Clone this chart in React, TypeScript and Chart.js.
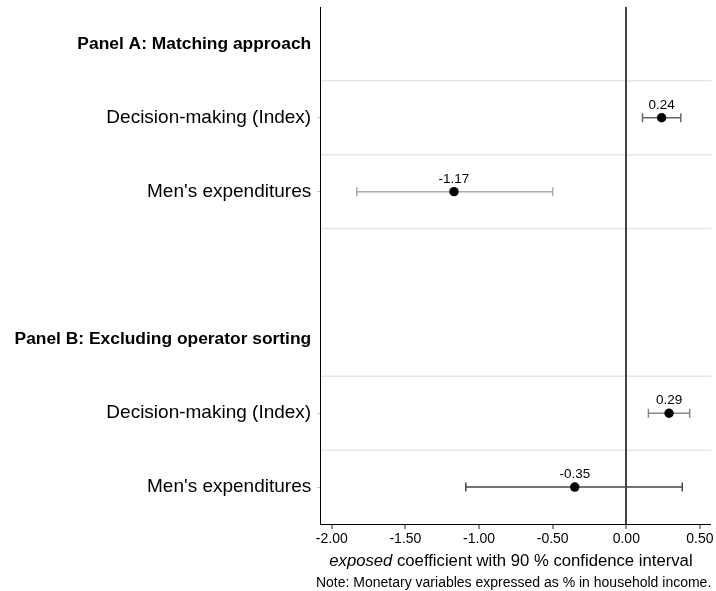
import { useEffect, useRef } from "react";
import { Chart, registerables } from "chart.js";

Chart.register(...registerables);

const FONT = "'Liberation Sans', Arial, Helvetica, sans-serif";

// Rows from top to bottom; empty string is the spacer between the panels.
const rowLabels = [
  "Panel A: Matching approach",
  "Decision-making (Index)",
  "Men's expenditures",
  "",
  "Panel B: Excluding operator sorting",
  "Decision-making (Index)",
  "Men's expenditures",
];
const headingRows = [0, 4];
const separatorRows = [1, 2, 3, 5, 6]; // a light rule is drawn above each of these rows

// Estimates and 90 % confidence bounds, one entry per estimated row
const estimateRows = [1, 2, 5, 6];
const estimates = [0.24, -1.17, 0.29, -0.35];
const ciLow = [0.11, -1.83, 0.15, -1.09];
const ciHigh = [0.37, -0.5, 0.43, 0.38];
const whiskerColors = ["#666666", "#aaaaaa", "#888888", "#454545"];

const xTicks = [-2, -1.5, -1, -0.5, 0, 0.5];
const xMin = -2.075;
const xMax = 0.577;

const axisTitleItalic = "exposed";
const axisTitleRest = " coefficient with 90 % confidence interval";
const noteText = "Note: Monetary variables expressed as % in household income.";

const rowValues = rowLabels.map((_, row) => {
  const k = estimateRows.indexOf(row);
  return k >= 0 ? estimates[k] : null;
});

const coefPlotPlugin = {
  id: "coefPlot",
  beforeDraw(chart: any) {
    const { ctx, chartArea, scales } = chart;
    ctx.save();
    ctx.fillStyle = "#ffffff";
    ctx.fillRect(0, 0, chart.width, chart.height);
    // light separators between the rows
    const y = scales.y;
    ctx.strokeStyle = "#e6e6e6";
    ctx.lineWidth = 1.5;
    separatorRows.forEach((row) => {
      const py = (y.getPixelForValue(row - 1) + y.getPixelForValue(row)) / 2;
      ctx.beginPath();
      ctx.moveTo(chartArea.left, py);
      ctx.lineTo(chartArea.right, py);
      ctx.stroke();
    });
    ctx.restore();
  },
  beforeDatasetsDraw(chart: any) {
    const { ctx, scales } = chart;
    const x = scales.x;
    const y = scales.y;
    ctx.save();
    ctx.lineWidth = 1.5;
    estimateRows.forEach((row, k) => {
      const py = y.getPixelForValue(row);
      const x1 = x.getPixelForValue(ciLow[k]);
      const x2 = x.getPixelForValue(ciHigh[k]);
      ctx.strokeStyle = whiskerColors[k];
      ctx.beginPath();
      ctx.moveTo(x1, py);
      ctx.lineTo(x2, py);
      ctx.moveTo(x1, py - 4.5);
      ctx.lineTo(x1, py + 4.5);
      ctx.moveTo(x2, py - 4.5);
      ctx.lineTo(x2, py + 4.5);
      ctx.stroke();
    });
    ctx.restore();
  },
  afterDatasetsDraw(chart: any) {
    const { ctx } = chart;
    const meta = chart.getDatasetMeta(0);
    ctx.save();
    ctx.fillStyle = "#000000";
    ctx.font = `13.5px ${FONT}`;
    ctx.textAlign = "center";
    ctx.textBaseline = "middle";
    estimateRows.forEach((row, k) => {
      const el = meta.data[row];
      ctx.fillText(estimates[k].toFixed(2), el.x, el.y - 12.5);
    });
    ctx.restore();
  },
  afterDraw(chart: any) {
    const { ctx, chartArea } = chart;
    ctx.save();
    ctx.fillStyle = "#000000";
    ctx.textBaseline = "middle";
    // axis title with the italic variable name
    const italicFont = `italic 16.7px ${FONT}`;
    const plainFont = `16.7px ${FONT}`;
    ctx.font = italicFont;
    const w1 = ctx.measureText(axisTitleItalic).width;
    ctx.font = plainFont;
    const w2 = ctx.measureText(axisTitleRest).width;
    const cx = chartArea.left + (chartArea.right - chartArea.left) * 0.487;
    const startX = cx - (w1 + w2) / 2;
    ctx.textAlign = "left";
    ctx.font = italicFont;
    ctx.fillText(axisTitleItalic, startX, 561);
    ctx.font = plainFont;
    ctx.fillText(axisTitleRest, startX + w1, 561);
    // note, right-aligned with the plot
    ctx.font = `14px ${FONT}`;
    ctx.textAlign = "right";
    ctx.fillText(noteText, chartArea.right, 583);
    ctx.restore();
  },
};

export default function App() {
  const canvasRef = useRef<HTMLCanvasElement | null>(null);

  useEffect(() => {
    const canvas = canvasRef.current;
    if (!canvas) return;
    const chart = new Chart(canvas, {
      type: "line",
      data: {
        labels: rowLabels,
        datasets: [
          {
            data: rowValues,
            showLine: false,
            pointRadius: 4.7,
            pointBackgroundColor: "#000000",
            pointBorderColor: "#000000",
            pointBorderWidth: 0,
          },
        ],
      },
      options: {
        indexAxis: "y",
        responsive: false,
        animation: false,
        events: [],
        layout: { padding: { top: 7, right: 4, left: 0, bottom: 0 } },
        plugins: {
          legend: { display: false },
          tooltip: { enabled: false },
          title: { display: false },
        },
        scales: {
          x: {
            type: "linear",
            min: xMin,
            max: xMax,
            afterBuildTicks: (scale: any) => {
              scale.ticks = xTicks.map((v) => ({ value: v }));
            },
            afterFit: (scale: any) => {
              scale.height = 67;
              scale.paddingLeft = 0;
              scale.paddingRight = 0;
            },
            border: { display: true, color: "#000000", width: 1 },
            grid: {
              drawOnChartArea: true,
              color: (ctx: any) =>
                ctx.tick && ctx.tick.value === 0 ? "#444444" : "rgba(0,0,0,0)",
              lineWidth: (ctx: any) => (ctx.tick && ctx.tick.value === 0 ? 2 : 0),
              drawTicks: true,
              tickLength: 5,
              tickColor: "#222222",
              tickWidth: 1,
            },
            ticks: {
              color: "#000000",
              font: { family: FONT, size: 14 },
              padding: 2,
              maxRotation: 0,
              autoSkip: false,
              callback: (v: any) => Number(v).toFixed(2),
            },
          },
          y: {
            type: "category",
            offset: true,
            afterFit: (scale: any) => {
              scale.width = 320.7;
              scale.paddingTop = 0;
              scale.paddingBottom = 0;
            },
            border: { display: true, color: "#000000", width: 1 },
            grid: {
              drawOnChartArea: false,
              drawTicks: true,
              tickLength: 3,
              tickWidth: 1,
              tickColor: (ctx: any) =>
                estimateRows.includes(ctx.index) ? "#bbbbbb" : "rgba(0,0,0,0)",
            },
            ticks: {
              color: "#000000",
              padding: 6.5,
              autoSkip: false,
              font: (ctx: any) =>
                headingRows.includes(ctx.index)
                  ? { family: FONT, size: 17.4, weight: "bold" }
                  : { family: FONT, size: 19 },
            },
          },
        },
      },
      plugins: [coefPlotPlugin],
    } as any);
    return () => chart.destroy();
  }, []);

  return (
    <div style={{ position: "absolute", left: 0, top: 0, width: 716, height: 591, background: "#ffffff" }}>
      <canvas ref={canvasRef} width={716} height={591} style={{ display: "block" }} />
    </div>
  );
}
